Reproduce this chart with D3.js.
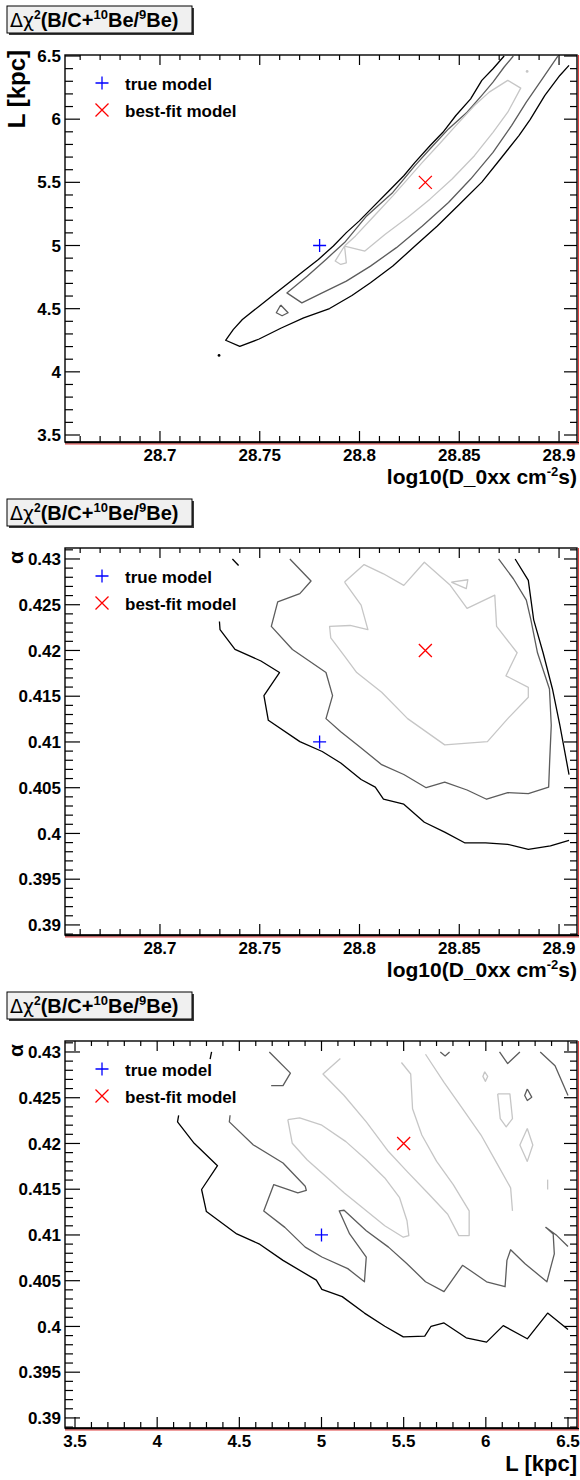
<!DOCTYPE html>
<html>
<head>
<meta charset="utf-8">
<script src="https://cdn.jsdelivr.net/npm/d3@7"></script>
<style>
  body { margin: 0; background: #fff; }
  text { font-family: "Liberation Sans", Arial, Helvetica, sans-serif; font-weight: 700; fill: #000; }
</style>
</head>
<body>
<svg id="chart" width="580" height="1480"></svg>
<script>
// ---------- tick labels ----------
const d0xxTicks = [28.7, 28.75, 28.8, 28.85, 28.9];
const lTicks = [3.5, 4, 4.5, 5, 5.5, 6, 6.5];
const alphaTicks = [0.39, 0.395, 0.4, 0.405, 0.41, 0.415, 0.42, 0.425, 0.43];

// ---------- reference points ----------
const trueModel = { d0xx: 28.78, L: 5.0, alpha: 0.41 };
const bestFit = { d0xx: 28.833, L: 5.5, alpha: 0.42 };
const legendLabels = ["true model", "best-fit model"];

// ---------- panel 1: L vs log10(D0xx) contour lines ----------
const p1Outer = [[28.8725,6.500],[28.8669,6.399],[28.8613,6.307],[28.8557,6.161],[28.8483,6.029],[28.8418,5.896],[28.8353,5.790],[28.8278,5.658],[28.8222,5.552],[28.8148,5.433],[28.8073,5.314],[28.7999,5.195],[28.7934,5.102],[28.7869,4.996],[28.7794,4.890],[28.7720,4.798],[28.7646,4.705],[28.7571,4.612],[28.7497,4.520],[28.7413,4.414],[28.7367,4.334],[28.7329,4.250],[28.7400,4.202],[28.7497,4.260],[28.7608,4.347],[28.7720,4.427],[28.7850,4.501],[28.7962,4.604],[28.8055,4.705],[28.8167,4.837],[28.8278,4.996],[28.8390,5.155],[28.8501,5.327],[28.8613,5.502],[28.8706,5.685],[28.8799,5.870],[28.8855,5.997],[28.8929,6.188],[28.9004,6.346],[28.9050,6.426]];
const p1Mid = [[28.8771,6.500],[28.8725,6.413],[28.8669,6.293],[28.8613,6.188],[28.8539,6.055],[28.8446,5.923],[28.8353,5.764],[28.8278,5.632],[28.8167,5.420],[28.8036,5.234],[28.7925,5.023],[28.7832,4.890],[28.7739,4.758],[28.7636,4.625],[28.7711,4.546],[28.7813,4.625],[28.7934,4.718],[28.8055,4.837],[28.8185,4.983],[28.8315,5.155],[28.8446,5.340],[28.8557,5.526],[28.8669,5.737],[28.8762,5.949],[28.8836,6.135],[28.8911,6.307],[28.8994,6.500]];
const p1MidIsland = [[28.7605,4.529],[28.7642,4.468],[28.7612,4.444],[28.7583,4.468],[28.7605,4.529]];
const p1Inner = [[28.7925,4.996],[28.8027,4.956],[28.8129,5.089],[28.8241,5.221],[28.8353,5.367],[28.8464,5.526],[28.8576,5.711],[28.8669,5.896],[28.8743,6.055],[28.8808,6.246],[28.8743,6.307],[28.8650,6.214],[28.8576,6.108],[28.8483,5.949],[28.8408,5.817],[28.8315,5.658],[28.8241,5.526],[28.8167,5.393],[28.8073,5.234],[28.7980,5.076],[28.7925,4.996]];
const p1InnerNotch = [[28.7925,4.996],[28.7878,4.877],[28.7906,4.850],[28.7934,4.863],[28.7925,4.996]];
const p1OuterDot = [28.7296, 4.130];
const p1InnerDot = [28.8840, 6.378];

// ---------- panel 2: alpha vs log10(D0xx) contour lines ----------
const p2Outer = [[28.7298,0.42317],[28.7301,0.42227],[28.7376,0.42011],[28.7506,0.41885],[28.7599,0.41759],[28.7521,0.41507],[28.7543,0.41237],[28.7701,0.41004],[28.7813,0.40896],[28.7906,0.40770],[28.8008,0.40590],[28.8079,0.40507],[28.8120,0.40374],[28.8222,0.40320],[28.8325,0.40122],[28.8427,0.40014],[28.8529,0.39896],[28.8632,0.39896],[28.8743,0.39881],[28.8846,0.39827],[28.8957,0.39863],[28.9050,0.39924]];
const p2OuterTop = [[28.7363,0.43000],[28.7394,0.42928]];
const p2OuterRight = [[28.8780,0.43000],[28.8846,0.42766],[28.8873,0.42335],[28.8920,0.41975],[28.8967,0.41579],[28.9004,0.41183],[28.9050,0.40644]];
const p2Mid = [[28.7651,0.43000],[28.7757,0.42759],[28.7701,0.42622],[28.7590,0.42532],[28.7558,0.42263],[28.7664,0.42011],[28.7832,0.41759],[28.7865,0.41507],[28.7832,0.41255],[28.7906,0.41112],[28.7999,0.40950],[28.8111,0.40752],[28.8222,0.40644],[28.8334,0.40500],[28.8427,0.40561],[28.8539,0.40475],[28.8637,0.40374],[28.8743,0.40446],[28.8846,0.40435],[28.8948,0.40507],[28.8953,0.40788],[28.8961,0.41183],[28.8952,0.41579],[28.8892,0.41975],[28.8859,0.42335],[28.8836,0.42550],[28.8771,0.42784],[28.8697,0.43000]];
const p2Inner = [[28.7925,0.42748],[28.8023,0.42939],[28.8120,0.42838],[28.8222,0.42712],[28.8325,0.42964],[28.8455,0.42712],[28.8539,0.42460],[28.8678,0.42604],[28.8687,0.42263],[28.8790,0.41975],[28.8734,0.41723],[28.8846,0.41597],[28.8846,0.41489],[28.8743,0.41255],[28.8641,0.41004],[28.8427,0.40968],[28.8241,0.41255],[28.8111,0.41543],[28.7986,0.41759],[28.7925,0.41939],[28.7856,0.42137],[28.7850,0.42263],[28.7953,0.42273],[28.8042,0.42227],[28.8008,0.42496],[28.7925,0.42748]];
const p2InnerIsland = [[28.8460,0.42748],[28.8543,0.42773],[28.8535,0.42676],[28.8460,0.42748]];

// ---------- panel 3: alpha vs L contour lines ----------
const p3Outer = [[4.1306,0.42308],[4.1239,0.42236],[4.2252,0.42002],[4.3671,0.41757],[4.2703,0.41497],[4.2995,0.41256],[4.4842,0.41011],[4.6194,0.40903],[4.7658,0.40722],[4.9685,0.40506],[5.0023,0.40405],[5.1261,0.40326],[5.2613,0.40146],[5.3851,0.40002],[5.4977,0.39886],[5.6284,0.39894],[5.6667,0.40002],[5.7455,0.40038],[5.8806,0.39876],[6.0045,0.39829],[6.1059,0.40009],[6.2523,0.39865],[6.3761,0.40146],[6.5000,0.39966]];
const p3OuterTop = [[4.3311,0.43000],[4.3221,0.42921]];
const p3Mid = [[4.4437,0.42308],[4.4392,0.42236],[4.5856,0.41984],[4.7658,0.41786],[4.9009,0.41533],[4.9077,0.41486],[4.8559,0.41461],[4.7095,0.41551],[4.6486,0.41263],[4.7770,0.41083],[4.9009,0.40867],[5.0023,0.40759],[5.1599,0.40632],[5.2613,0.40488],[5.2725,0.40759],[5.1712,0.41011],[5.1081,0.41263],[5.1374,0.41270],[5.2725,0.41047],[5.4077,0.40867],[5.5203,0.40686],[5.6329,0.40488],[5.7455,0.40380],[5.8581,0.40668],[5.9032,0.40614],[6.0045,0.40488],[6.1171,0.40434],[6.1284,0.40722],[6.1509,0.40838],[6.2387,0.40686],[6.3716,0.40488],[6.4167,0.40794],[6.4099,0.41011],[6.3649,0.41083],[6.4324,0.40993],[6.5000,0.40874]];
const p3MidTopLeft = [[4.6824,0.43000],[4.8108,0.42769],[4.7658,0.42632],[4.6937,0.42632]];
const p3MidTopV = [[5.7230,0.43000],[5.7523,0.42957],[5.7793,0.43000]];
const p3MidTopRightV = [[6.0833,0.43000],[6.1329,0.42874],[6.2072,0.43000]];
const p3MidTopRight = [[6.3311,0.43000],[6.4212,0.42849],[6.5000,0.42524]];
const p3MidIsland = [[6.2523,0.42596],[6.2793,0.42506],[6.2523,0.42470],[6.2365,0.42524],[6.2523,0.42596]];
const p3InnerA = [[4.7950,0.42261],[4.8671,0.42279],[5.0023,0.42200],[5.1486,0.42020],[5.2725,0.41822],[5.3851,0.41623],[5.4752,0.41407],[5.5203,0.41155],[5.5315,0.40993],[5.4977,0.40975],[5.3851,0.41101],[5.2613,0.41281],[5.1374,0.41461],[5.0248,0.41641],[4.9122,0.41822],[4.8221,0.42002],[4.7950,0.42261]];
const p3InnerB = [[5.1149,0.42928],[5.0090,0.42759],[5.1374,0.42524],[5.2725,0.42236],[5.4077,0.41912],[5.5203,0.41695],[5.6554,0.41443],[5.7680,0.41227],[5.8356,0.40993],[5.8986,0.40993],[5.8986,0.41263],[5.8018,0.41551],[5.7005,0.41804],[5.6104,0.42092],[5.5541,0.42380],[5.5428,0.42759],[5.4865,0.42885]];
const p3InnerC = [[5.6329,0.42975],[5.7455,0.42668],[5.8581,0.42380],[5.9707,0.42092],[6.0608,0.41804],[6.1509,0.41515],[6.1622,0.41263]];
const p3InnerQuad = [[6.0721,0.42542],[6.1464,0.42542],[6.1622,0.42272],[6.1239,0.42182],[6.0878,0.42272],[6.0721,0.42542]];
const p3InnerDiamond = [[6.2523,0.42164],[6.2860,0.41984],[6.2523,0.41804],[6.2072,0.41984],[6.2523,0.42164]];
const p3InnerTick = [[6.3761,0.41605],[6.3761,0.41497]];
const p3InnerLoop = [[5.9932,0.42784],[6.0113,0.42733],[5.9977,0.42679],[5.9820,0.42733],[5.9932,0.42784]];

// ---------- styling ----------
const C_OUT = "#000000", C_MID = "#5c5c5c", C_IN = "#c6c6c6";
const PANEL_H = 493;
const F = { l: 65, r: 577, t: 55, b: 442 };

const panels = [
  {
    xDomain: [28.6524, 28.909], yDomain: [3.4446, 6.508],
    xTicks: d0xxTicks, xMinor: 0.01, yTicks: lTicks, yMinor: 0.1,
    xTitle: "d0xx", yTitle: "L [kpc]", yTitleGreek: false,
    trueXY: [trueModel.d0xx, trueModel.L], bestXY: [bestFit.d0xx, bestFit.L],
    lines: [
      [p1Outer, C_OUT], [p1Mid, C_MID], [p1MidIsland, C_MID],
      [p1Inner, C_IN], [p1InnerNotch, C_IN]
    ],
    dots: [[p1OuterDot, C_OUT], [p1InnerDot, C_IN]]
  },
  {
    xDomain: [28.6524, 28.909], yDomain: [0.3889, 0.4312],
    xTicks: d0xxTicks, xMinor: 0.01, yTicks: alphaTicks, yMinor: 0.001,
    xTitle: "d0xx", yTitle: "\u03B1", yTitleGreek: true,
    trueXY: [trueModel.d0xx, trueModel.alpha], bestXY: [bestFit.d0xx, bestFit.alpha],
    lines: [
      [p2Outer, C_OUT], [p2OuterTop, C_OUT], [p2OuterRight, C_OUT],
      [p2Mid, C_MID], [p2Inner, C_IN], [p2InnerIsland, C_IN]
    ],
    dots: []
  },
  {
    xDomain: [3.4391, 6.5548], yDomain: [0.3889, 0.4312],
    xTicks: lTicks, xMinor: 0.1, yTicks: alphaTicks, yMinor: 0.001,
    xTitle: "L [kpc]", yTitle: "\u03B1", yTitleGreek: true,
    trueXY: [trueModel.L, trueModel.alpha], bestXY: [bestFit.L, bestFit.alpha],
    lines: [
      [p3Outer, C_OUT], [p3OuterTop, C_OUT],
      [p3Mid, C_MID], [p3MidTopLeft, C_MID], [p3MidTopV, C_MID], [p3MidTopRightV, C_MID],
      [p3MidTopRight, C_MID], [p3MidIsland, C_MID],
      [p3InnerA, C_IN], [p3InnerB, C_IN], [p3InnerC, C_IN], [p3InnerQuad, C_IN],
      [p3InnerDiamond, C_IN], [p3InnerTick, C_IN], [p3InnerLoop, C_IN]
    ],
    dots: []
  }
];

const svg = d3.select("#chart");
svg.append("rect").attr("width", 580).attr("height", 1480).attr("fill", "#fff");

function fmt(v) { return String(+v.toFixed(4)); }

function minorValues(domain, step) {
  const a = Math.ceil(domain[0] / step - 1e-6), b = Math.floor(domain[1] / step + 1e-6);
  return d3.range(a, b + 1).map(i => +(i * step).toFixed(6));
}

function drawTitleBox(g) {
  g.append("rect").attr("x", 9).attr("y", 8).attr("width", 185).attr("height", 27).attr("fill", "#3a3a3a");
  g.append("rect").attr("x", 7).attr("y", 6).attr("width", 185).attr("height", 27)
    .attr("fill", "#f0f0f0").attr("stroke", "#000").attr("stroke-width", 1);
  const t = g.append("text").attr("x", 10).attr("y", 27).attr("font-size", 20).attr("font-weight", 700);
  t.append("tspan").attr("font-weight", 400).attr("font-family", "DejaVu Sans, sans-serif").attr("font-size", 19).text("\u0394\u03C7");
  t.append("tspan").attr("font-size", 12).attr("dy", -8).text("2");
  t.append("tspan").attr("dy", 8).text("(B/C+");
  t.append("tspan").attr("font-size", 13).attr("dy", -8).text("10");
  t.append("tspan").attr("dy", 8).text("Be/");
  t.append("tspan").attr("font-size", 13).attr("dy", -8).text("9");
  t.append("tspan").attr("dy", 8).text("Be)");
}

panels.forEach((p, i) => {
  const g = svg.append("g").attr("transform", `translate(0,${i * PANEL_H})`);
  const x = d3.scaleLinear().domain(p.xDomain).range([F.l, F.r]);
  const y = d3.scaleLinear().domain(p.yDomain).range([F.b, F.t]);

  drawTitleBox(g);

  // clip region for the contour lines
  const clipId = "clip" + i;
  g.append("clipPath").attr("id", clipId).append("rect")
    .attr("x", F.l).attr("y", F.t).attr("width", F.r - F.l).attr("height", F.b - F.t);

  const plot = g.append("g").attr("clip-path", `url(#${clipId})`);
  const line = d3.line().x(d => x(d[0])).y(d => y(d[1]));
  p.lines.forEach(([pts, col]) => {
    plot.append("path").attr("d", line(pts)).attr("fill", "none")
      .attr("stroke", col).attr("stroke-width", 1.3).attr("stroke-linejoin", "round");
  });
  p.dots.forEach(([pt, col]) => {
    plot.append("circle").attr("cx", x(pt[0])).attr("cy", y(pt[1])).attr("r", 1.4).attr("fill", col);
  });

  // markers
  const mk = 6.5;
  const tx = x(p.trueXY[0]), ty = y(p.trueXY[1]);
  plot.append("path").attr("d", `M${tx - mk},${ty}H${tx + mk}M${tx},${ty - mk}V${ty + mk}`)
    .attr("stroke", "#0000ff").attr("stroke-width", 1.3);
  const bx = x(p.bestXY[0]), by = y(p.bestXY[1]);
  plot.append("path").attr("d", `M${bx - mk},${by - mk}L${bx + mk},${by + mk}M${bx - mk},${by + mk}L${bx + mk},${by - mk}`)
    .attr("stroke", "#ff0000").attr("stroke-width", 1.3);

  // legend
  const lx = 102, ly = [83, 110];
  g.append("path").attr("d", `M${lx - mk},${ly[0]}H${lx + mk}M${lx},${ly[0] - mk}V${ly[0] + mk}`)
    .attr("stroke", "#0000ff").attr("stroke-width", 1.3);
  g.append("path").attr("d", `M${lx - mk},${ly[1] - mk}L${lx + mk},${ly[1] + mk}M${lx - mk},${ly[1] + mk}L${lx + mk},${ly[1] - mk}`)
    .attr("stroke", "#ff0000").attr("stroke-width", 1.3);
  legendLabels.forEach((lab, k) => {
    g.append("text").attr("x", 125).attr("y", ly[k] + 7).attr("font-size", 17).attr("font-weight", 700).text(lab);
  });

  // ticks (all four sides, pointing inward)
  const tk = g.append("g").attr("stroke", "#000").attr("stroke-width", 1.2);
  const isMajor = (v, majors) => majors.some(m => Math.abs(m - v) < 1e-7);
  minorValues(p.xDomain, p.xMinor).forEach(v => {
    const maj = isMajor(v, p.xTicks);
    const xv = x(v);
    tk.append("line").attr("x1", xv).attr("x2", xv).attr("y1", F.b).attr("y2", F.b - (maj ? 11 : 6));
    tk.append("line").attr("x1", xv).attr("x2", xv).attr("y1", F.t).attr("y2", F.t + (maj ? 10 : 5));
  });
  minorValues(p.yDomain, p.yMinor).forEach(v => {
    const maj = isMajor(v, p.yTicks);
    const yv = y(v);
    tk.append("line").attr("x1", F.l).attr("x2", F.l + (maj ? 15 : 8)).attr("y1", yv).attr("y2", yv);
    tk.append("line").attr("x1", F.r).attr("x2", F.r - (maj ? 13 : 7)).attr("y1", yv).attr("y2", yv);
  });

  // frame
  g.append("rect").attr("x", F.l).attr("y", F.t).attr("width", F.r - F.l).attr("height", F.b - F.t)
    .attr("fill", "none").attr("stroke", "#000").attr("stroke-width", 1.4);
  g.append("line").attr("x1", F.l).attr("x2", F.r + 2).attr("y1", F.b + 0.5).attr("y2", F.b + 0.5)
    .attr("stroke", "#000").attr("stroke-width", 2.2);
  g.append("line").attr("x1", F.l).attr("x2", F.r + 2).attr("y1", F.b + 2).attr("y2", F.b + 2)
    .attr("stroke", "#e04040").attr("stroke-width", 1);
  g.append("line").attr("x1", F.r + 1.5).attr("x2", F.r + 1.5).attr("y1", F.t).attr("y2", F.b)
    .attr("stroke", "#e04040").attr("stroke-width", 1);

  // tick labels
  p.xTicks.forEach(v => {
    g.append("text").attr("x", x(v)).attr("y", 461).attr("text-anchor", "middle")
      .attr("font-size", 17).attr("font-weight", 700).text(fmt(v));
  });
  p.yTicks.forEach(v => {
    g.append("text").attr("x", 61).attr("y", y(v)).attr("dy", "0.36em").attr("text-anchor", "end")
      .attr("font-size", 17).attr("font-weight", 700).text(fmt(v));
  });

  // axis titles
  if (p.xTitle === "d0xx") {
    const t = g.append("text").attr("x", 577).attr("y", 484).attr("text-anchor", "end")
      .attr("font-size", 21).attr("font-weight", 700);
    t.append("tspan").text("log10(D_0xx cm");
    t.append("tspan").attr("font-size", 13).attr("dy", -8).text("-2");
    t.append("tspan").attr("dy", 8).text("s)");
  } else {
    g.append("text").attr("x", 577).attr("y", 485).attr("text-anchor", "end")
      .attr("font-size", 22).attr("font-weight", 700).text(p.xTitle);
  }
  if (p.yTitleGreek) {
    g.append("text").attr("transform", "translate(23,58) rotate(-90)").attr("text-anchor", "end")
      .attr("font-weight", 400).attr("font-family", "DejaVu Sans, sans-serif").attr("font-size", 21).text(p.yTitle);
  } else {
    g.append("text").attr("transform", "translate(25,50) rotate(-90)").attr("text-anchor", "end")
      .attr("font-size", 24).attr("font-weight", 700).text(p.yTitle);
  }
});
</script>
</body>
</html>
